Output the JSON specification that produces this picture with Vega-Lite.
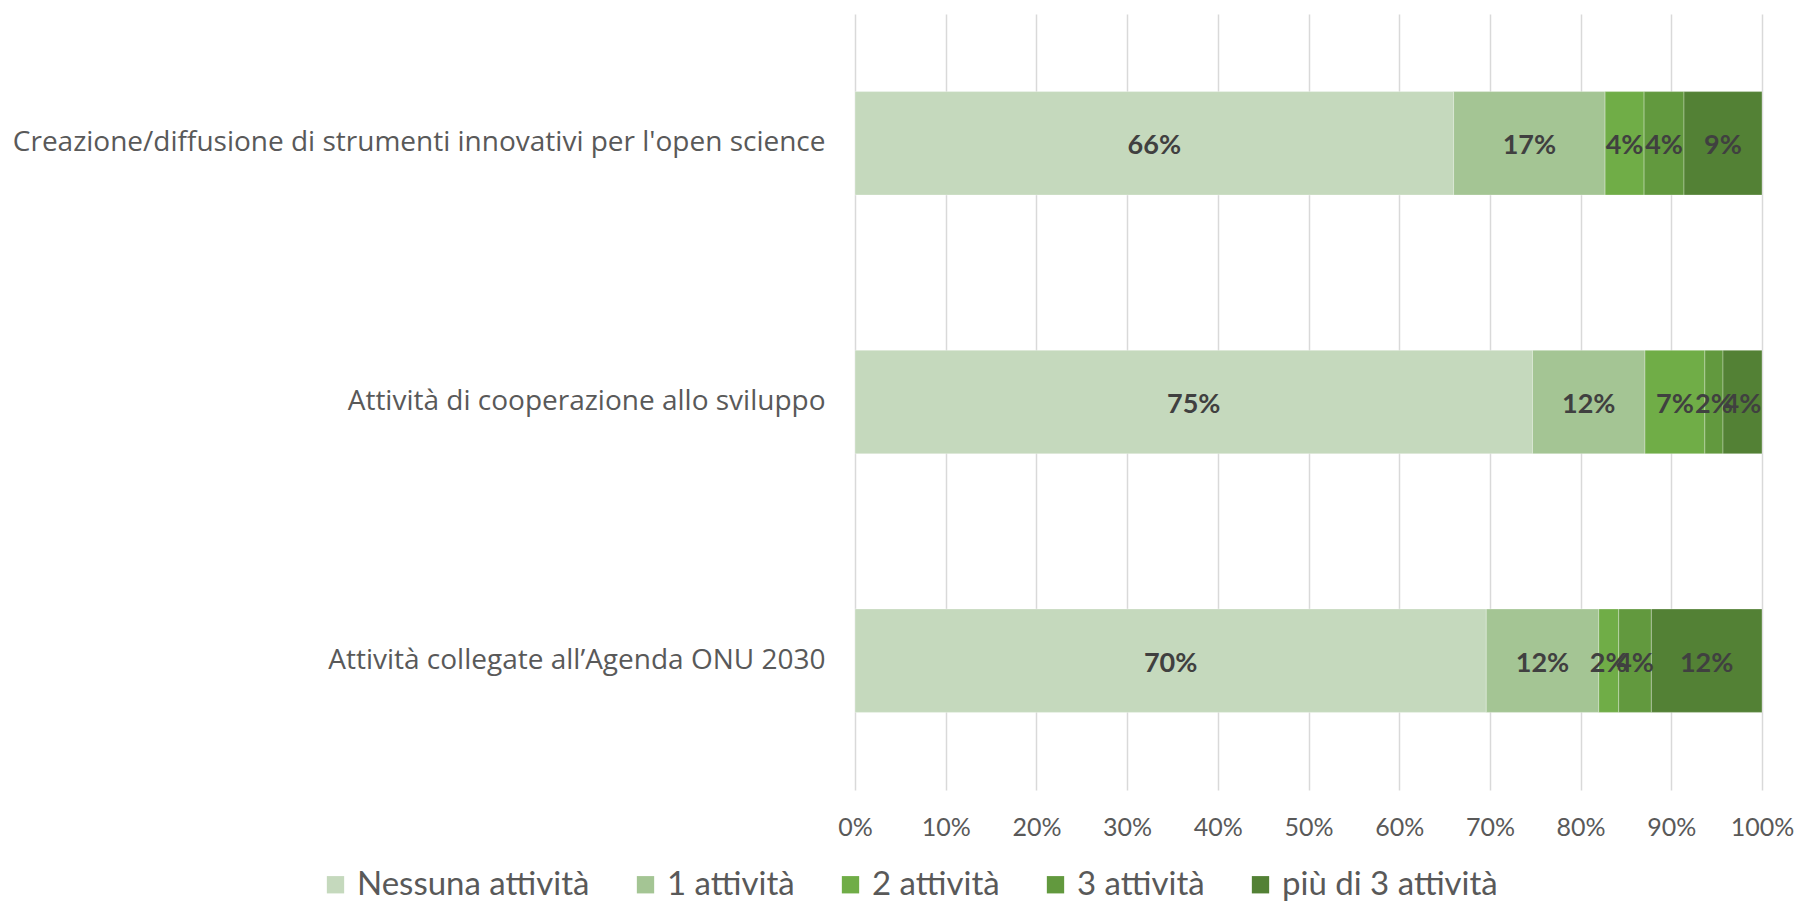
{
  "$schema": "https://vega.github.io/schema/vega-lite/v6.json",
  "width": 907,
  "height": 776,
  "autosize": {"type": "none"},
  "padding": {"left": 855, "top": 14, "right": 35, "bottom": 111},
  "background": "#ffffff",
  "config": {"view": {"stroke": null}, "font": "Lato"},
  "data": {
    "values": [
      {"attivita": "Creazione/diffusione di strumenti innovativi per l'open science", "classe": "Nessuna attività", "n": 0, "quota": 0.660},
      {"attivita": "Creazione/diffusione di strumenti innovativi per l'open science", "classe": "1 attività", "n": 1, "quota": 0.167},
      {"attivita": "Creazione/diffusione di strumenti innovativi per l'open science", "classe": "2 attività", "n": 2, "quota": 0.043},
      {"attivita": "Creazione/diffusione di strumenti innovativi per l'open science", "classe": "3 attività", "n": 3, "quota": 0.044},
      {"attivita": "Creazione/diffusione di strumenti innovativi per l'open science", "classe": "più di 3 attività", "n": 4, "quota": 0.086},
      {"attivita": "Attività di cooperazione allo sviluppo", "classe": "Nessuna attività", "n": 0, "quota": 0.747},
      {"attivita": "Attività di cooperazione allo sviluppo", "classe": "1 attività", "n": 1, "quota": 0.124},
      {"attivita": "Attività di cooperazione allo sviluppo", "classe": "2 attività", "n": 2, "quota": 0.066},
      {"attivita": "Attività di cooperazione allo sviluppo", "classe": "3 attività", "n": 3, "quota": 0.020},
      {"attivita": "Attività di cooperazione allo sviluppo", "classe": "più di 3 attività", "n": 4, "quota": 0.043},
      {"attivita": "Attività collegate all’Agenda ONU 2030", "classe": "Nessuna attività", "n": 0, "quota": 0.696},
      {"attivita": "Attività collegate all’Agenda ONU 2030", "classe": "1 attività", "n": 1, "quota": 0.124},
      {"attivita": "Attività collegate all’Agenda ONU 2030", "classe": "2 attività", "n": 2, "quota": 0.022},
      {"attivita": "Attività collegate all’Agenda ONU 2030", "classe": "3 attività", "n": 3, "quota": 0.036},
      {"attivita": "Attività collegate all’Agenda ONU 2030", "classe": "più di 3 attività", "n": 4, "quota": 0.122}
    ]
  },
  "encoding": {
    "y": {
      "field": "attivita",
      "type": "nominal",
      "sort": ["Creazione/diffusione di strumenti innovativi per l'open science", "Attività di cooperazione allo sviluppo", "Attività collegate all’Agenda ONU 2030"],
      "scale": {"paddingInner": 0.6, "paddingOuter": 0.3},
      "axis": {"title": null, "domain": false, "ticks": false, "labelFontSize": 28, "labelColor": "#595959", "labelPadding": 30, "labelLimit": 900, "labelFont": "Open Sans"}
    }
  },
  "layer": [
    {
      "mark": {"type": "bar", "stroke": "#ffffff", "strokeWidth": 0.6, "strokeOpacity": 0.5},
      "encoding": {
        "x": {
          "field": "quota",
          "type": "quantitative",
          "stack": "zero",
          "scale": {"domain": [0, 1], "nice": false},
          "axis": {"title": null, "values": [0, 0.1, 0.2, 0.3, 0.4, 0.5, 0.6, 0.7, 0.8, 0.9, 1], "format": ".0%", "grid": true, "gridColor": "#D9D9D9", "gridWidth": 1.5, "domain": false, "ticks": false, "labelFlush": false, "labelOverlap": false, "labelFontSize": 25, "labelColor": "#595959", "labelPadding": 25, "labelFont": "Lato"}
        },
        "color": {
          "field": "classe",
          "type": "nominal",
          "scale": {"domain": ["Nessuna attività", "1 attività", "2 attività", "3 attività", "più di 3 attività"], "range": ["#C5D9BD", "#A4C594", "#70AD47", "#62993E", "#538135"]},
          "legend": {"title": null, "orient": "none", "direction": "horizontal", "legendX": -536, "legendY": 854, "symbolType": "square", "symbolSize": 300, "symbolStrokeWidth": 0, "labelFontSize": 33, "labelColor": "#595959", "labelFont": "Lato", "labelLimit": 600, "columnPadding": 39, "labelOffset": 5}
        },
        "order": {"field": "n", "type": "quantitative"}
      }
    },
    {
      "mark": {"type": "text", "fontWeight": "bold", "fontSize": 27, "color": "#404040", "baseline": "middle", "align": "center", "font": "Lato", "dy": 3},
      "encoding": {
        "x": {"field": "quota", "type": "quantitative", "stack": "zero", "bandPosition": 0.5},
        "detail": {"field": "classe", "type": "nominal"},
        "order": {"field": "n", "type": "quantitative"},
        "text": {"field": "quota", "type": "quantitative", "format": ".0%"}
      }
    }
  ]
}
